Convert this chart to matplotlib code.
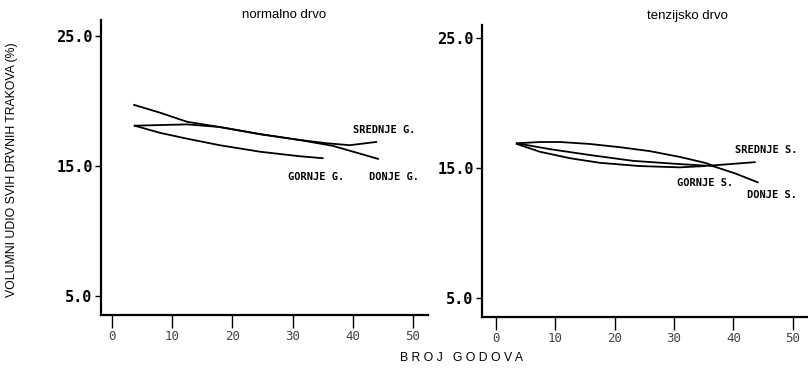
import matplotlib
matplotlib.use('Agg')
import matplotlib.pyplot as plt

# normalno drvo
n_donje_x = [3.7, 8.0, 12.5, 17.9, 24.6, 31.2, 36.7, 44.2]
n_donje_y = [19.7, 19.1, 18.4, 18.0, 17.45, 17.0, 16.55, 15.55]
n_sred_x = [3.8, 8.0, 12.5, 17.9, 24.6, 31.2, 35.7, 39.5, 43.9]
n_sred_y = [18.1, 18.15, 18.2, 18.0, 17.45, 17.0, 16.75, 16.6, 16.85]
n_gorn_x = [3.8, 8.0, 12.5, 17.9, 24.6, 31.2, 35.0]
n_gorn_y = [18.1, 17.55, 17.1, 16.6, 16.1, 15.75, 15.6]

# tenzijsko drvo
t_sred_x = [3.5, 7.4, 10.8, 15.8, 20.9, 25.9, 31.0, 35.2, 36.5, 39.4, 43.6]
t_sred_y = [16.9, 17.0, 17.0, 16.85, 16.6, 16.3, 15.85, 15.4, 15.2, 15.3, 15.45]
t_donje_x = [3.5, 9.1, 15.8, 23.1, 31.0, 36.5, 40.2, 44.1]
t_donje_y = [16.9, 16.45, 16.0, 15.55, 15.3, 15.15, 14.6, 13.9]
t_gorn_x = [3.5, 7.4, 12.5, 17.5, 24.2, 30.9, 35.2]
t_gorn_y = [16.85, 16.25, 15.75, 15.4, 15.15, 15.05, 15.15]

x_ticks = [0, 10, 20, 30, 40, 50]
y_ticks = [5.0, 15.0, 25.0]
y_ticklabels = ['5.0', '15.0', '25.0']

fig = plt.figure(figsize=(8.08, 3.68), dpi=100)
ax1 = fig.add_axes([101/808, 53/368, 327/808, 295/368])
ax2 = fig.add_axes([482/808, 51/368, 325/808, 292/368])

lbl_font = dict(family='DejaVu Sans Mono', fontweight='bold', fontsize=7.5)

def style(ax, xlim, ylim):
    ax.set_xlim(*xlim)
    ax.set_ylim(*ylim)
    for s in ['top', 'right']:
        ax.spines[s].set_visible(False)
    ax.spines['left'].set_linewidth(1.6)
    ax.spines['bottom'].set_linewidth(1.6)
    ax.set_xticks(x_ticks)
    ax.set_xticklabels([str(t) for t in x_ticks], family='DejaVu Sans Mono', fontsize=9, color='#444444')
    ax.set_yticks(y_ticks)
    ax.set_yticklabels(y_ticklabels, family='DejaVu Sans Mono', fontsize=11, fontweight='bold')
    ax.tick_params(axis='x', length=9, width=1.0, pad=2)
    ax.tick_params(axis='y', length=4, width=1.0, pad=2)

style(ax1, (-1.8, 52.5), (3.54, 26.23))
style(ax2, (-2.36, 52.4), (3.54, 26.0))

for xs, ys in [(n_donje_x, n_donje_y), (n_sred_x, n_sred_y), (n_gorn_x, n_gorn_y)]:
    ax1.plot(xs, ys, color='black', lw=1.3)
for xs, ys in [(t_sred_x, t_sred_y), (t_donje_x, t_donje_y), (t_gorn_x, t_gorn_y)]:
    ax2.plot(xs, ys, color='black', lw=1.3)

ax1.text(45.2, 17.8, 'SREDNJE G.', ha='center', va='center', **lbl_font)
ax1.text(33.9, 14.15, 'GORNJE G.', ha='center', va='center', **lbl_font)
ax1.text(46.8, 14.15, 'DONJE G.', ha='center', va='center', **lbl_font)
ax2.text(45.6, 16.4, 'SREDNJE S.', ha='center', va='center', **lbl_font)
ax2.text(35.2, 13.85, 'GORNJE S.', ha='center', va='center', **lbl_font)
ax2.text(46.5, 12.9, 'DONJE S.', ha='center', va='center', **lbl_font)

fig.text(284/808, 1 - 15/368, 'normalno drvo', ha='center', va='center', family='Liberation Sans', fontsize=9.5)
fig.text(687/808, 1 - 16/368, 'tenzijsko drvo', ha='center', va='center', family='Liberation Sans', fontsize=9.5)
fig.text(12/808, 1 - 170/368, 'VOLUMNI UDIO SVIH DRVNIH TRAKOVA (%)', rotation=90,
         ha='center', va='center', family='Liberation Sans', fontsize=8.8)
fig.text(462/808, 1 - 358/368, 'B R O J   G O D O V A', ha='center', va='center',
         family='Liberation Sans', fontsize=8.8)

fig.savefig('out.png', dpi=100)
